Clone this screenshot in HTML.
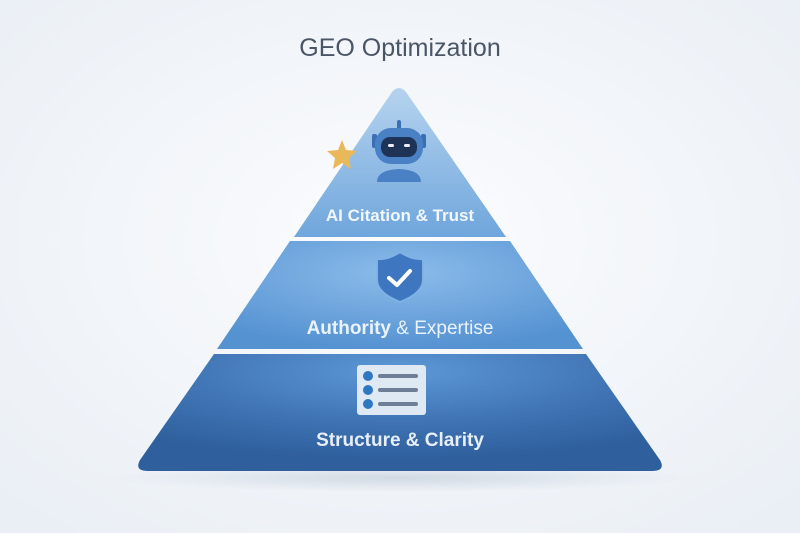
<!DOCTYPE html>
<html><head><meta charset="utf-8"><style>
html,body{margin:0;padding:0;width:800px;height:533px;overflow:hidden;background:#f3f6fa}
svg{display:block}
text{font-family:"Liberation Sans",sans-serif}
</style></head><body>
<svg width="800" height="533" viewBox="0 0 800 533" xmlns="http://www.w3.org/2000/svg">
<defs>
<radialGradient id="bg" cx="50%" cy="45%" r="70%"><stop offset="0" stop-color="#fbfcfe"/><stop offset="1" stop-color="#eaeff5"/></radialGradient>
<linearGradient id="g1" x1="0" y1="0" x2="0" y2="1"><stop offset="0" stop-color="#b6d3ef"/><stop offset="1" stop-color="#6fa6dc"/></linearGradient>
<radialGradient id="g2" cx="50%" cy="30%" r="70%"><stop offset="0" stop-color="#8cbcea"/><stop offset="1" stop-color="#5592d2"/></radialGradient>
<radialGradient id="g3" cx="50%" cy="15%" r="75%"><stop offset="0" stop-color="#5d98d6"/><stop offset="0.6" stop-color="#3e72b2"/><stop offset="1" stop-color="#2f5f9d"/></radialGradient>
<radialGradient id="sh" cx="50%" cy="50%" r="50%"><stop offset="0" stop-color="#c9d3de" stop-opacity="0.8"/><stop offset="1" stop-color="#c9d3de" stop-opacity="0"/></radialGradient>
</defs>
<rect width="800" height="533" fill="url(#bg)"/>
<ellipse cx="400" cy="478" rx="290" ry="14" fill="url(#sh)"/>
<text x="400" y="56" text-anchor="middle" font-size="25" fill="#4a5566">GEO Optimization</text>
<path d="M392,92 Q399,84 406,92 L506,237 L294,237 Z" fill="url(#g1)"/>
<path d="M290,241 L510,241 L583,349 L217,349 Z" fill="url(#g2)"/>
<path d="M214,354 L586,354 L660,460 Q666,471 652,471 L148,471 Q134,471 140,460 Z" fill="url(#g3)"/>
<!-- star -->
<polygon points="342,140 346,150 357,151 349,158 351,169 342,163 333,169 335,158 327,151 338,150" fill="#e8b85a"/>
<!-- robot -->
<rect x="397" y="120" width="4" height="10" rx="2" fill="#3a6fb5"/>
<rect x="372" y="134" width="5" height="14" rx="2" fill="#3a6fb5"/>
<rect x="421" y="134" width="5" height="14" rx="2" fill="#3a6fb5"/>
<rect x="375" y="128" width="48" height="36" rx="16" fill="#4a80c4"/>
<rect x="381" y="137" width="36" height="20" rx="9" fill="#1f3356"/>
<rect x="388" y="144" width="6" height="3" rx="1.5" fill="#eef"/>
<rect x="404" y="144" width="6" height="3" rx="1.5" fill="#eef"/>
<path d="M377,182 Q377,170 399,169 Q421,170 421,182 Z" fill="#4a80c4"/>
<text x="400" y="221" text-anchor="middle" font-size="17" font-weight="bold" fill="#f2f7fc">AI Citation &amp; Trust</text>
<!-- shield -->
<path d="M400,252 Q412,260 423,259 L423,280 Q423,293 400,302 Q377,293 377,280 L377,259 Q388,260 400,252 Z" fill="#3e77c0" stroke="#7fb3e6" stroke-width="2"/>
<path d="M389,278 L397,285 L410,271" fill="none" stroke="#fff" stroke-width="4" stroke-linecap="round" stroke-linejoin="round"/>
<text x="400" y="334" text-anchor="middle" font-size="19" fill="#eaf3fc"><tspan font-weight="bold">Authority</tspan> &amp; Expertise</text>
<!-- list icon -->
<rect x="357" y="365" width="69" height="50" rx="3" fill="#dfe9f3"/>
<circle cx="368" cy="376" r="5" fill="#2f78c0"/><circle cx="368" cy="390" r="5" fill="#2f78c0"/><circle cx="368" cy="404" r="5" fill="#2f78c0"/>
<rect x="378" y="374" width="40" height="4" rx="2" fill="#6d7e96"/>
<rect x="378" y="388" width="40" height="4" rx="2" fill="#6d7e96"/>
<rect x="378" y="402" width="40" height="4" rx="2" fill="#6d7e96"/>
<text x="400" y="446" text-anchor="middle" font-size="19" font-weight="bold" fill="#e6eef8">Structure &amp; Clarity</text>
</svg>
</body></html>
